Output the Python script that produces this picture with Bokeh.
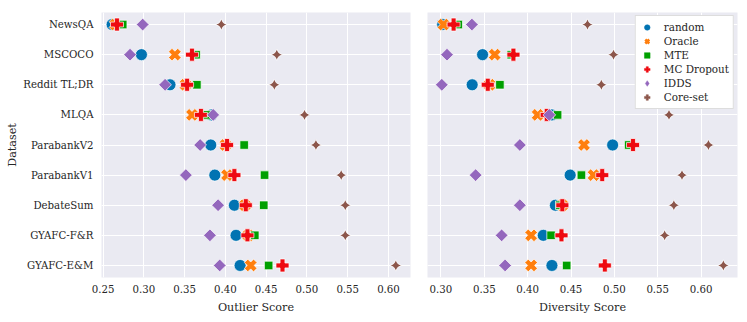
import math
from bokeh.plotting import figure
from bokeh.models import FixedTicker, Range1d, PrintfTickFormatter, Legend, LegendItem
from bokeh.layouts import row
from bokeh.embed import file_html
from bokeh.resources import INLINE

datasets = ["NewsQA", "MSCOCO", "Reddit TL;DR", "MLQA", "ParabankV2",
            "ParabankV1", "DebateSum", "GYAFC-F&R", "GYAFC-E&M"]
methods = ["random", "Oracle", "MTE", "MC Dropout", "IDDS", "Core-set"]

outlier_random = [0.261, 0.297, 0.332, 0.383, 0.382, 0.387, 0.411, 0.413, 0.418]
outlier_oracle = [0.265, 0.338, 0.351, 0.359, 0.400, 0.402, 0.424, 0.428, 0.431]
outlier_mte = [0.274, 0.364, 0.365, 0.377, 0.423, 0.448, 0.447, 0.436, 0.453]
outlier_mc_dropout = [0.267, 0.359, 0.353, 0.370, 0.402, 0.411, 0.425, 0.427, 0.470]
outlier_idds = [0.2985, 0.283, 0.326, 0.385, 0.369, 0.3515, 0.391, 0.381, 0.393]
outlier_coreset = [0.395, 0.463, 0.460, 0.497, 0.511, 0.542, 0.547, 0.547, 0.609]

diversity_random = [0.302, 0.348, 0.336, 0.428, 0.498, 0.449, 0.432, 0.418, 0.428]
diversity_oracle = [0.303, 0.362, 0.356, 0.4115, 0.465, 0.476, 0.440, 0.404, 0.404]
diversity_mte = [0.320, 0.381, 0.368, 0.4345, 0.5165, 0.462, 0.437, 0.427, 0.445]
diversity_mc_dropout = [0.3146, 0.3836, 0.354, 0.422, 0.5215, 0.486, 0.440, 0.439, 0.489]
diversity_idds = [0.3357, 0.307, 0.301, 0.425, 0.391, 0.340, 0.391, 0.370, 0.374]
diversity_coreset = [0.469, 0.499, 0.485, 0.563, 0.6085, 0.578, 0.5686, 0.558, 0.6257]

outlier_ticks = [0.25, 0.30, 0.35, 0.40, 0.45, 0.50, 0.55, 0.60]
diversity_ticks = [0.30, 0.35, 0.40, 0.45, 0.50, 0.55, 0.60]

outlier_series = [outlier_random, outlier_oracle, outlier_mte,
                  outlier_mc_dropout, outlier_idds, outlier_coreset]
diversity_series = [diversity_random, diversity_oracle, diversity_mte,
                    diversity_mc_dropout, diversity_idds, diversity_coreset]

colors = ["#0173b2", "#ff7f0e", "#00a000", "#ee0a10", "#9467bd", "#8c564b"]
# (marker, size, angle) used in the panels
marker_specs = [("circle", 12, 0.0), ("plus", 13, math.pi / 4), ("square", 8.5, 0.0),
                ("plus", 13, 0.0), ("square", 9, math.pi / 4), ("square_pin", 8, math.pi / 4)]
# markers used for the legend swatches (legend ignores angles)
legend_specs = [("circle", 0), ("x", 2.6), ("square", 0), ("plus", 0), ("diamond", 0), ("plus", 0)]

FONT = "DejaVu Serif"
BG = "#EAEAF2"
TXT = "#262626"
ypos = list(range(len(datasets)))


def style(p, xticks, xlabel):
    p.background_fill_color = BG
    p.border_fill_color = "white"
    p.outline_line_color = None
    p.xgrid.grid_line_color = "white"
    p.ygrid.grid_line_color = "white"
    p.xgrid.grid_line_width = 1
    p.ygrid.grid_line_width = 1
    for ax in [p.xaxis[0], p.yaxis[0]]:
        ax.axis_line_color = None
        ax.major_tick_line_color = None
        ax.minor_tick_line_color = None
        ax.major_tick_out = 0
        ax.major_tick_in = 0
        ax.minor_tick_out = 0
        ax.minor_tick_in = 0
        ax.major_label_text_font = FONT
        ax.major_label_text_font_size = "10.2px"
        ax.major_label_text_color = TXT
        ax.axis_label_text_font = FONT
        ax.axis_label_text_font_size = "11.2px"
        ax.axis_label_text_font_style = "normal"
        ax.axis_label_text_color = TXT
    p.xaxis.ticker = FixedTicker(ticks=xticks)
    p.xaxis.formatter = PrintfTickFormatter(format="%.2f")
    p.xaxis.axis_label = xlabel
    p.xaxis.major_label_standoff = 7
    p.xaxis.axis_label_standoff = 5
    p.yaxis.ticker = FixedTicker(ticks=ypos)
    p.ygrid.ticker = FixedTicker(ticks=ypos)
    p.yaxis.major_label_overrides = {i: d for i, d in enumerate(datasets)}


def draw(p, series):
    rends = []
    for vals, col, (mk, sz, ang) in zip(series, colors, marker_specs):
        r = p.scatter(x=vals, y=ypos, marker=mk, size=sz, angle=ang,
                      fill_color=col, line_color="white", line_width=0.7)
        rends.append(r)
    return rends


p1 = figure(frame_width=309, frame_height=265, output_backend="svg",
            toolbar_location=None, x_range=Range1d(0.248, 0.627),
            y_range=Range1d(8.4, -0.4), min_border_left=101,
            min_border_top=12, min_border_right=5, min_border_bottom=5)
style(p1, outlier_ticks, "Outlier Score")
p1.yaxis.axis_label = "Dataset"
p1.yaxis.major_label_standoff = 8
p1.yaxis.axis_label_standoff = 1
draw(p1, outlier_series)

p2 = figure(frame_width=310, frame_height=265, output_backend="svg",
            toolbar_location=None, x_range=Range1d(0.2845, 0.642),
            y_range=Range1d(8.4, -0.4), min_border_left=12,
            min_border_top=12, min_border_right=2, min_border_bottom=5)
style(p2, diversity_ticks, "Diversity Score")
p2.yaxis.visible = False
draw(p2, diversity_series)

# legend-only swatches, placed far outside the visible ranges
legend_items = []
for m, col, (mk, lw) in zip(methods, colors, legend_specs):
    if mk == "x":
        r = p2.scatter(x=[10.0], y=[100.0], marker=mk, size=8, line_color=col, line_width=lw)
    else:
        r = p2.scatter(x=[10.0], y=[100.0], marker=mk, size=8, fill_color=col,
                       line_color=col, line_width=0.5)
    legend_items.append(LegendItem(label=m, renderers=[r]))

legend = Legend(items=legend_items, location="top_right")
legend.label_text_font = FONT
legend.label_text_font_size = "10.4px"
legend.label_text_color = TXT
legend.label_height = 14
legend.glyph_height = 14
legend.glyph_width = 14
legend.spacing = 0
legend.padding = 4
legend.margin = 3
legend.label_standoff = 10
legend.border_line_color = "#bbbbbb"
legend.border_line_width = 1
legend.background_fill_color = "white"
legend.background_fill_alpha = 1.0
p2.add_layout(legend)

layout = row(p1, p2)
open("out.html", "w").write(file_html(layout, INLINE))
